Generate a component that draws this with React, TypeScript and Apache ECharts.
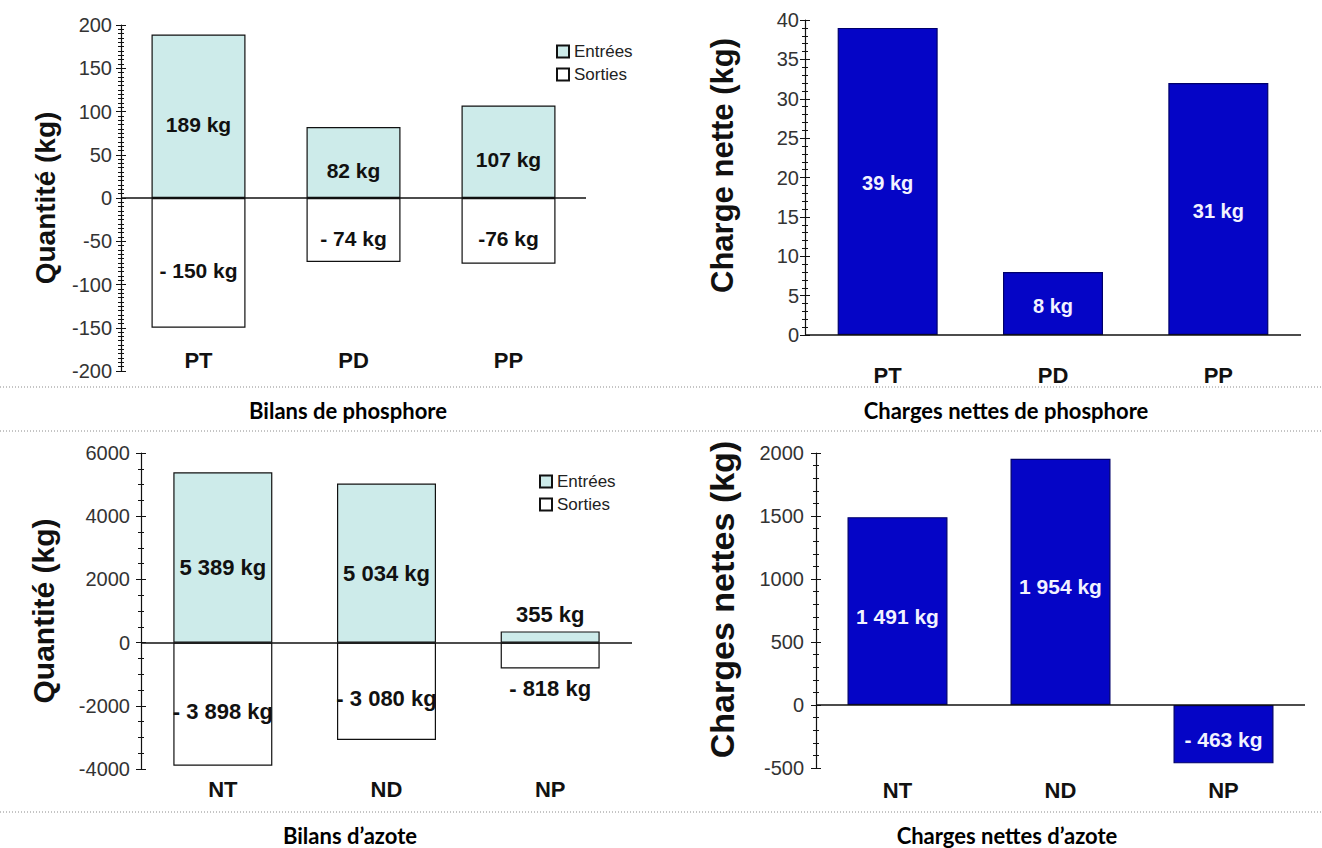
import React, { useEffect, useRef } from "react";
import * as echarts from "echarts";

// phosphore
const phosCategories = ["PT", "PD", "PP"];
const phosInputs = [189, 82, 107];
const phosOutputs = [-150, -74, -76];
const phosInputLabels = ["189 kg", "82 kg", "107 kg"];
const phosOutputLabels = ["- 150 kg", "- 74 kg", "-76 kg"];
const phosNet = [39, 8, 32];
const phosNetLabels = ["39 kg", "8 kg", "31 kg"];

// azote
const azoteCategories = ["NT", "ND", "NP"];
const azoteInputs = [5389, 5034, 355];
const azoteOutputs = [-3898, -3080, -818];
const azoteInputLabels = ["5 389 kg", "5 034 kg", "355 kg"];
const azoteOutputLabels = ["- 3 898 kg", "- 3 080 kg", "- 818 kg"];
const azoteNet = [1491, 1954, -463];
const azoteNetLabels = ["1 491 kg", "1 954 kg", "- 463 kg"];

// [min, max, interval]
const phosBalanceAxis = [-200, 200, 50];
const phosNetAxis = [0, 40, 5];
const azoteBalanceAxis = [-4000, 6000, 2000];
const azoteNetAxis = [-500, 2000, 500];

const legendNames = ["Entrées", "Sorties"];
const titles = [
  "Bilans de phosphore",
  "Charges nettes de phosphore",
  "Bilans d’azote",
  "Charges nettes d’azote",
];

const FONT = "'Liberation Sans', Arial, sans-serif";
const INK = "#111";
const TEAL = "#cdebea";
const BLUE = "#0505c6";

function yAxes(
  gridIndex: number,
  range: number[],
  minorSplit: number,
  name: string,
  nameGap: number,
  nameSize: number,
  namePad: number,
  labelMargin: number
) {
  const [min, max, interval] = range;
  const base = {
    type: "value",
    gridIndex,
    min,
    max,
    interval,
    position: "left",
    splitLine: { show: false },
  };
  const tick = { lineStyle: { color: INK, width: 1 } };
  return [
    {
      ...base,
      name,
      nameLocation: "middle",
      nameRotate: 90,
      nameGap,
      nameTextStyle: {
        fontFamily: FONT,
        fontWeight: "bold",
        fontSize: nameSize,
        color: INK,
        padding: [0, 0, 0, namePad],
      },
      axisLine: { show: true, lineStyle: { color: INK, width: 1.2 } },
      axisTick: { show: true, length: 5, ...tick },
      minorTick: { show: true, splitNumber: minorSplit, length: 3, ...tick },
      axisLabel: {
        color: "#333",
        fontSize: 20,
        fontFamily: FONT,
        margin: labelMargin,
        formatter: (v: number) => String(v),
      },
    },
    {
      ...base,
      axisLine: { show: false },
      axisTick: { show: true, inside: true, length: 5, ...tick },
      minorTick: { show: true, splitNumber: minorSplit, length: 3, ...tick },
      axisLabel: { show: false },
    },
  ];
}

function xAxis(gridIndex: number, data: string[], margin: number, offset: number) {
  return {
    type: "category",
    gridIndex,
    data,
    offset,
    axisLine: { show: false, onZero: false },
    axisTick: { show: false },
    axisLabel: {
      margin,
      color: INK,
      fontFamily: FONT,
      fontWeight: "bold",
      fontSize: 22,
    },
  };
}

const zeroLine = {
  silent: true,
  symbol: ["none", "none"],
  label: { show: false },
  lineStyle: { color: INK, width: 1.5, type: "solid" },
  data: [{ yAxis: 0 }],
};

function barLabel(labels: string[], color: string, size: number, dy: number) {
  return {
    show: true,
    position: "inside",
    offset: [0, dy],
    formatter: (p: { dataIndex: number }) => labels[p.dataIndex],
    color,
    fontFamily: FONT,
    fontWeight: "bold",
    fontSize: size,
  };
}

function buildOption() {
  const legendBase = {
    data: legendNames,
    orient: "vertical",
    icon: "rect",
    itemWidth: 12,
    itemHeight: 12,
    itemGap: 6,
    textStyle: { fontFamily: FONT, fontSize: 17, color: "#222" },
  };

  const dotted = (y: number) => ({
    type: "line",
    shape: { x1: 0, y1: y, x2: 1322, y2: y },
    style: { stroke: "#8a8a8a", lineWidth: 1, lineDash: [1, 2] },
  });
  const title = (text: string, x: number, y: number) => ({
    type: "text",
    x,
    y,
    style: {
      text,
      textAlign: "center",
      textVerticalAlign: "middle",
      fill: "#000",
      font: "bold 22px Lato, 'Open Sans', sans-serif",
    },
  });

  return {
    animation: false,
    backgroundColor: "#fff",
    legend: [
      { ...legendBase, left: 551, top: 38 },
      { ...legendBase, left: 534, top: 468 },
    ],
    grid: [
      { left: 121, top: 25, width: 465, height: 346 },
      { left: 805, top: 20, width: 496, height: 315 },
      { left: 141, top: 453, width: 491, height: 316 },
      { left: 816, top: 453, width: 489, height: 315 },
    ],
    xAxis: [
      xAxis(0, phosCategories, 8, -30),
      xAxis(1, phosCategories, 29, 0),
      xAxis(2, azoteCategories, 9, 0),
      xAxis(3, azoteCategories, 11, 0),
    ],
    yAxis: [
      ...yAxes(0, phosBalanceAxis, 10, "Quantité (kg)", 62, 28, 0, 9),
      ...yAxes(1, phosNetAxis, 5, "Charge nette (kg)", 67, 31, 24, 6),
      ...yAxes(2, azoteBalanceAxis, 4, "Quantité (kg)", 83, 30, 0, 11),
      ...yAxes(3, azoteNetAxis, 5, "Charges nettes (kg)", 77, 34, 22, 12),
    ],
    series: [
      {
        name: "Entrées",
        type: "bar",
        xAxisIndex: 0,
        yAxisIndex: 0,
        data: phosInputs,
        barWidth: 94,
        barGap: "-100%",
        itemStyle: { color: TEAL, borderColor: INK, borderWidth: 1.2 },
        label: barLabel(phosInputLabels, INK, 21, 8),
        markLine: zeroLine,
      },
      {
        name: "Sorties",
        type: "bar",
        xAxisIndex: 0,
        yAxisIndex: 0,
        data: phosOutputs,
        barWidth: 94,
        barGap: "-100%",
        itemStyle: { color: "#fff", borderColor: INK, borderWidth: 1.2 },
        label: barLabel(phosOutputLabels, INK, 21, 8),
      },
      {
        name: "Charge nette P",
        type: "bar",
        xAxisIndex: 1,
        yAxisIndex: 2,
        data: phosNet,
        barWidth: 100,
        itemStyle: { color: BLUE, borderColor: "#00006a", borderWidth: 1.2 },
        label: barLabel(phosNetLabels, "#f2f2ff", 20, 2),
        markLine: zeroLine,
      },
      {
        name: "Entrées",
        type: "bar",
        xAxisIndex: 2,
        yAxisIndex: 4,
        data: azoteInputs.map((v) =>
          v < 1000 ? { value: v, label: { position: "top", distance: 6, offset: [0, 0] } } : v
        ),
        barWidth: 99,
        barGap: "-100%",
        itemStyle: { color: TEAL, borderColor: INK, borderWidth: 1.2 },
        label: barLabel(azoteInputLabels, INK, 22, 10),
        markLine: zeroLine,
      },
      {
        name: "Sorties",
        type: "bar",
        xAxisIndex: 2,
        yAxisIndex: 4,
        data: azoteOutputs.map((v) =>
          v > -1000 ? { value: v, label: { position: "bottom", distance: 9, offset: [0, 0] } } : v
        ),
        barWidth: 99,
        barGap: "-100%",
        itemStyle: { color: "#fff", borderColor: INK, borderWidth: 1.2 },
        label: barLabel(azoteOutputLabels, INK, 22, 7),
      },
      {
        name: "Charge nette N",
        type: "bar",
        xAxisIndex: 3,
        yAxisIndex: 6,
        data: azoteNet,
        barWidth: 100,
        itemStyle: { color: BLUE, borderColor: "#00006a", borderWidth: 1.2 },
        label: barLabel(azoteNetLabels, "#f2f2ff", 21, 5),
        markLine: zeroLine,
      },
    ],
    graphic: [
      dotted(387),
      dotted(431),
      dotted(812),
      title(titles[0], 348, 410),
      title(titles[1], 1006, 410),
      title(titles[2], 350, 835),
      title(titles[3], 1007, 835),
    ],
  };
}

export default function App() {
  const ref = useRef<HTMLDivElement>(null);

  useEffect(() => {
    if (!ref.current) return;
    const chart = echarts.init(ref.current, undefined, { renderer: "svg" });
    // eslint-disable-next-line @typescript-eslint/no-explicit-any
    chart.setOption(buildOption() as any);
    return () => chart.dispose();
  }, []);

  return (
    <div
      ref={ref}
      style={{ position: "absolute", left: 0, top: 0, width: 1322, height: 848, background: "#fff" }}
    />
  );
}
